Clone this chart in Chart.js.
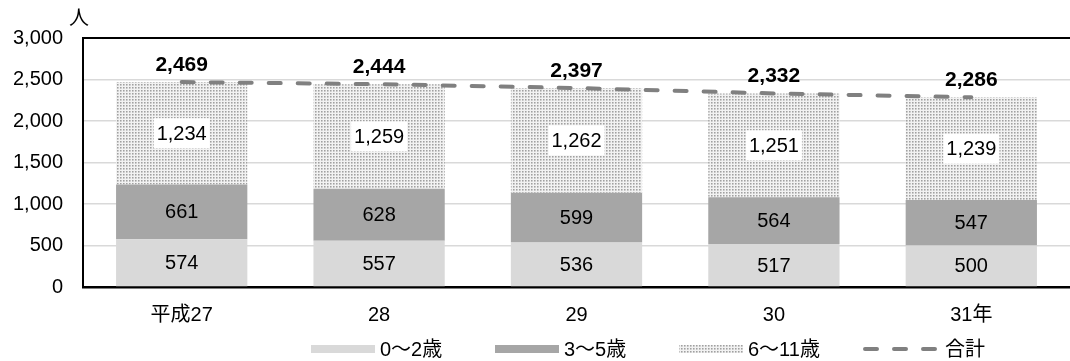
<!DOCTYPE html>
<html>
<head>
<meta charset="utf-8">
<script src="https://cdn.jsdelivr.net/npm/chart.js@4/dist/chart.umd.min.js"></script>
<style>
  html, body { margin: 0; padding: 0; background: #fff; }
  #wrap { width: 1070px; height: 361px; position: relative; }
</style>
</head>
<body>
<div id="wrap"><canvas id="childChart"></canvas></div>
<script>
const years = ["平成27", "28", "29", "30", "31年"];
const age0to2 = [574, 557, 536, 517, 500];
const age3to5 = [661, 628, 599, 564, 547];
const age6to11 = [1234, 1259, 1262, 1251, 1239];
const totals = [2469, 2444, 2397, 2332, 2286];
const yTicks = [0, 500, 1000, 1500, 2000, 2500, 3000];

const FONT = "'Liberation Sans', 'Noto Sans CJK JP', sans-serif";
const LINE_DASH = [12, 17];

// fine dot screen used for the 6〜11歳 segment
function dotPattern() {
  const c = document.createElement("canvas");
  c.width = 3;
  c.height = 3;
  const g = c.getContext("2d");
  g.fillStyle = "#f2f2f2";
  g.fillRect(0, 0, 3, 3);
  g.fillStyle = "#a0a0a0";
  g.fillRect(0, 0, 1, 1);
  g.fillStyle = "#c4c4c4";
  g.fillRect(1, 0, 1, 1);
  g.fillRect(0, 1, 1, 1);
  g.fillStyle = "#d8d8d8";
  g.fillRect(1, 1, 1, 1);
  return g.createPattern(c, "repeat");
}

const ctx = document.getElementById("childChart").getContext("2d");
const dots = dotPattern();

// value text inside each segment and totals above the line
const valueLabels = {
  id: "valueLabels",
  afterDatasetsDraw(chart) {
    const c = chart.ctx;
    c.save();
    c.textAlign = "center";
    c.textBaseline = "middle";
    chart.data.datasets.forEach((ds, i) => {
      const meta = chart.getDatasetMeta(i);
      meta.data.forEach((el, j) => {
        const txt = ds.data[j].toLocaleString("en-US");
        if (ds.type === "line") {
          c.font = "bold 21px " + FONT;
          c.fillStyle = "#000";
          c.fillText(txt, el.x, el.y - 17);
          return;
        }
        const p = el.getProps(["x", "y", "base"], true);
        const cy = (p.y + p.base) / 2;
        c.font = "20px " + FONT;
        if (ds.boxed) {
          const w = c.measureText(txt).width + 6;
          c.fillStyle = "#fff";
          c.fillRect(p.x - w / 2, cy - 15, w, 30);
        }
        c.fillStyle = "#000";
        c.fillText(txt, p.x, cy + 1);
      });
    });
    c.restore();
  },
  afterDraw(chart) {
    const c = chart.ctx;
    const a = chart.chartArea;
    c.save();
    c.font = "20px " + FONT;
    c.fillStyle = "#000";
    c.textAlign = "center";
    c.textBaseline = "middle";
    c.fillText("人", a.left - 4, a.top - 19);
    c.restore();
  },
};

// legend row under the axis labels
const bottomLegend = {
  id: "bottomLegend",
  afterDraw(chart) {
    const c = chart.ctx;
    const y = chart.height - 12;
    let x = 311;
    c.save();
    c.font = "20px " + FONT;
    c.textBaseline = "middle";
    c.textAlign = "left";
    chart.data.datasets.forEach((ds) => {
      let sw = 64;
      if (ds.type === "line") {
        sw = 77;
        c.strokeStyle = ds.borderColor;
        c.lineWidth = ds.borderWidth;
        c.lineCap = "round";
        c.setLineDash(LINE_DASH);
        c.beginPath();
        c.moveTo(x + 2, y);
        c.lineTo(x + sw, y);
        c.stroke();
        c.setLineDash([]);
      } else {
        c.fillStyle = ds.backgroundColor;
        c.fillRect(x, y - 4, sw, 8);
      }
      c.fillStyle = "#000";
      c.fillText(ds.label, x + sw + 5, y + 1);
      x += 184;
    });
    c.restore();
  },
};

new Chart(ctx, {
  data: {
    labels: years,
    datasets: [
      {
        type: "bar",
        label: "0〜2歳",
        data: age0to2,
        backgroundColor: "#d9d9d9",
        stack: "age",
        order: 1,
      },
      {
        type: "bar",
        label: "3〜5歳",
        data: age3to5,
        backgroundColor: "#a6a6a6",
        stack: "age",
        order: 1,
      },
      {
        type: "bar",
        label: "6〜11歳",
        data: age6to11,
        backgroundColor: dots,
        stack: "age",
        order: 1,
        boxed: true,
      },
      {
        type: "line",
        label: "合計",
        data: totals,
        borderColor: "#808080",
        backgroundColor: "#808080",
        borderWidth: 4,
        borderDash: LINE_DASH,
        borderCapStyle: "round",
        pointRadius: 0,
        fill: false,
        stack: "total",
        order: 0,
      },
    ],
  },
  options: {
    responsive: true,
    maintainAspectRatio: false,
    animation: false,
    layout: { padding: { left: 0, right: 0, top: 38, bottom: 26 } },
    datasets: {
      bar: { categoryPercentage: 1, barPercentage: 0.665 },
    },
    scales: {
      x: {
        stacked: true,
        grid: { display: false },
        border: { color: "#000", width: 2.5 },
        ticks: { color: "#000", font: { family: FONT, size: 20 }, padding: 8 },
      },
      y: {
        stacked: true,
        min: 0,
        max: 3000,
        afterBuildTicks: (axis) => {
          axis.ticks = yTicks.map((v) => ({ value: v }));
        },
        afterFit: (axis) => {
          axis.width = 83;
        },
        grid: {
          drawTicks: false,
          color: (c) => (c.tick && c.tick.value === 3000 ? "#000" : "#d9d9d9"),
          lineWidth: (c) => (c.tick && c.tick.value === 3000 ? 2 : 1.5),
        },
        border: { color: "#000", width: 2 },
        ticks: {
          color: "#000",
          padding: 20,
          font: { family: FONT, size: 20 },
          callback: (v) => v.toLocaleString("en-US"),
        },
      },
    },
    plugins: {
      tooltip: { enabled: false },
      legend: { display: false },
    },
  },
  plugins: [valueLabels, bottomLegend],
});
</script>
</body>
</html>
